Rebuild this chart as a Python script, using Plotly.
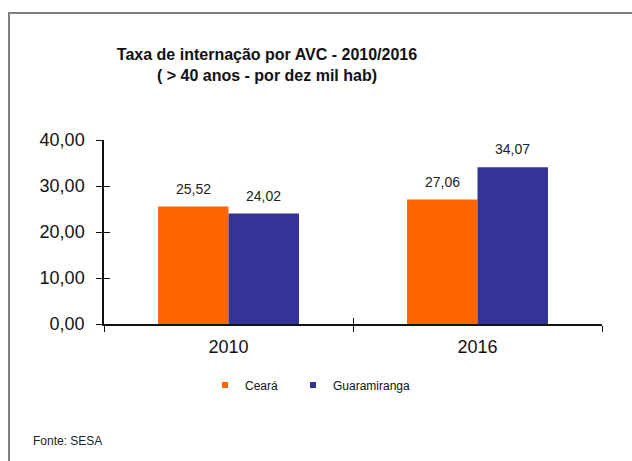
import plotly.graph_objects as go

categories = ["2010", "2016"]
ceara = [25.52, 27.06]
guaramiranga = [24.02, 34.07]
series_names = ["Ceará", "Guaramiranga"]
colors = ["#FF6600", "#333399"]
y_ticks = [0, 10, 20, 30, 40]

W, H = 632, 461
L, R, T, B = 104, 30, 140, 137
pw, ph = W - L - R, H - T - B

def px_x(x):
    return (x - L) / pw

def px_y(y):
    return (H - B - y) / ph

fig = go.Figure()
legend_ids = ["legend", "legend2"]
legend_x = [205, 293]
for name, vals, col, lg in zip(series_names, [ceara, guaramiranga], colors, legend_ids):
    fig.add_trace(go.Bar(x=categories, y=vals, name=name, marker_color=col,
                         marker_line_width=0, showlegend=False))
    fig.add_trace(go.Scatter(x=[None], y=[None], mode="markers", name=name, legend=lg,
                             marker=dict(symbol="square", size=6, color=col)))

# value labels
for vals, shift in zip([ceara, guaramiranga], [-35, 35]):
    for i, v in enumerate(vals):
        fig.add_annotation(x=i, y=v, xref="x", yref="y",
                           text=f"{v:.2f}".replace(".", ","), showarrow=False,
                           xshift=shift, yshift=18, font=dict(size=14, color="#222"))

fig.add_annotation(xref="paper", yref="paper", x=px_x(31), y=px_y(441), xanchor="left",
                   yanchor="middle", text="Fonte: SESA", showarrow=False,
                   font=dict(size=12, color="#222"))

fig.add_shape(type="rect", xref="paper", yref="paper",
              x0=px_x(9), x1=px_x(660), y0=px_y(13), y1=px_y(480),
              line=dict(color="#808080", width=2), layer="below")

legend_style = dict(orientation="h", yanchor="middle", font=dict(size=12),
                    itemwidth=30, bgcolor="rgba(0,0,0,0)")

fig.update_layout(
    width=W, height=H,
    margin=dict(l=L, r=R, t=T, b=B),
    paper_bgcolor="white", plot_bgcolor="white",
    separators=",.",
    barmode="group", bargap=0.434, bargroupgap=0,
    font=dict(family="Liberation Sans, Arial, sans-serif", color="#111"),
    title=dict(text="<b>Taxa de internação por AVC - 2010/2016<br>( > 40 anos - por dez mil hab)</b>",
               x=267 / W, xanchor="center", y=1 - 60 / H, yanchor="top",
               font=dict(size=16, color="#111"), subtitle=dict(text="")),
    legend=dict(x=px_x(legend_x[0]), y=px_y(385), xanchor="left", **legend_style),
    legend2=dict(x=px_x(legend_x[1]), y=px_y(385), xanchor="left", **legend_style),
    xaxis=dict(type="category", categoryarray=categories, range=[-0.5, 1.5],
               showline=True, linecolor="#111", linewidth=1.5,
               ticks="outside", ticklen=6, tickcolor="#111", tickson="boundaries",
               tickfont=dict(size=18), showgrid=False, zeroline=False,
               ticklabelstandoff=6),
    xaxis2=dict(type="category", categoryarray=categories, range=[-0.5, 1.5],
                overlaying="x", anchor="y", side="bottom",
                ticks="inside", ticklen=6, tickcolor="#111", tickson="boundaries",
                showticklabels=False, showgrid=False, zeroline=False, showline=False),
    yaxis=dict(range=[0, 40], tickvals=y_ticks, tickformat=".2f", showline=True,
               linecolor="#111", linewidth=1.5, ticks="outside", ticklen=6, tickcolor="#111",
               tickfont=dict(size=18), showgrid=False, zeroline=False,
               ticklabelstandoff=8),
    yaxis2=dict(overlaying="y", anchor="x", side="left", range=[0, 40], tickvals=y_ticks,
                ticks="inside", ticklen=6, tickcolor="#111", showticklabels=False,
                showgrid=False, zeroline=False, showline=False),
)
fig.add_trace(go.Scatter(x=categories, y=[None, None], yaxis="y2", showlegend=False,
                         hoverinfo="skip", mode="markers"))
fig.add_trace(go.Scatter(x=categories, y=[None, None], xaxis="x2", showlegend=False,
                         hoverinfo="skip", mode="markers"))

fig.write_html("out.html")
